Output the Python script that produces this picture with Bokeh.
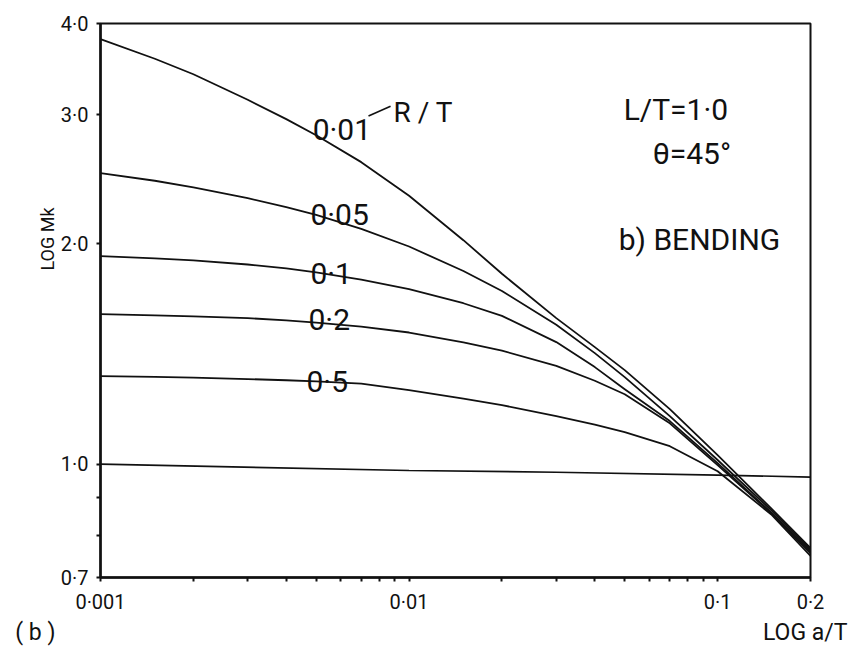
import math
from bokeh.plotting import figure
from bokeh.models import Range1d, FixedTicker, ColumnDataSource, Title
from bokeh.core.properties import value
from bokeh.embed import file_html
from bokeh.resources import INLINE

# ---------------- data ----------------
a_T = [0.001, 0.0015, 0.002, 0.003, 0.004, 0.005, 0.007, 0.01, 0.015, 0.02,
       0.03, 0.04, 0.05, 0.07, 0.1, 0.15, 0.2]
mk_r001 = [3.807, 3.58, 3.41, 3.147, 2.961, 2.815, 2.586, 2.327, 2.023, 1.82,
           1.583, 1.445, 1.344, 1.189, 1.029, 0.868, 0.768]
mk_r005 = [2.498, 2.439, 2.388, 2.309, 2.245, 2.191, 2.096, 1.983, 1.836, 1.724,
           1.550, 1.418, 1.315, 1.163, 1.013, 0.863, 0.763]
mk_r01 = [1.924, 1.910, 1.899, 1.874, 1.851, 1.828, 1.787, 1.734, 1.659, 1.594,
          1.468, 1.357, 1.266, 1.145, 1.003, 0.857, 0.759]
mk_r02 = [1.603, 1.597, 1.592, 1.583, 1.572, 1.561, 1.541, 1.513, 1.467, 1.429,
          1.362, 1.300, 1.246, 1.137, 0.997, 0.855, 0.755]
mk_r05 = [1.319, 1.316, 1.313, 1.307, 1.302, 1.297, 1.288, 1.262, 1.229, 1.204,
          1.163, 1.132, 1.106, 1.058, 0.978, 0.852, 0.749]
unity_x = [0.001, 0.01, 0.03, 0.1, 0.2]
unity_y = [1.0, 0.98, 0.975, 0.966, 0.96]

curve_labels = ["0·01", "0·05", "0·1", "0·2", "0·5"]

x_ticks = [0.001, 0.01, 0.1, 0.2]
x_tick_labels = ["0·001", "0·01", "0·1", "0·2"]
x_minor = [0.002, 0.003, 0.004, 0.005, 0.006, 0.007, 0.008, 0.009,
           0.02, 0.03, 0.04, 0.05, 0.06, 0.07, 0.08, 0.09]
y_ticks = [0.7, 1.0, 2.0, 3.0, 4.0]
y_tick_labels = ["0·7", "1·0", "2·0", "3·0", "4·0"]
y_minor = [0.8, 0.9]

# ---------------- styling ----------------
FONT = "Roboto"
INK = "#111111"

p = figure(width=862, height=647, x_axis_type="log", y_axis_type="log",
           x_range=Range1d(0.001, 0.2), y_range=Range1d(0.7, 4.0),
           output_backend="svg", toolbar_location=None,
           min_border_left=100, min_border_right=52,
           min_border_top=23, min_border_bottom=70)
p.background_fill_color = "white"
p.border_fill_color = "white"
p.grid.visible = False
p.outline_line_color = INK
p.outline_line_width = 2

for ax in (p.xaxis[0], p.yaxis[0]):
    ax.axis_line_color = INK
    ax.axis_line_width = 2.5
    ax.major_tick_line_color = INK
    ax.minor_tick_line_color = INK
    ax.major_tick_line_width = 2
    ax.minor_tick_line_width = 2
    ax.major_tick_in = 0
    ax.minor_tick_in = 0
    ax.major_tick_out = 4
    ax.minor_tick_out = 4
    ax.major_label_text_font = FONT
    ax.major_label_text_font_size = "20px"
    ax.major_label_text_color = INK
    ax.major_label_text_font_style = "normal"
    ax.major_label_standoff = 8

p.xaxis.ticker = FixedTicker(ticks=x_ticks, minor_ticks=x_minor)
p.xaxis.major_label_overrides = {t: l for t, l in zip(x_ticks, x_tick_labels)}
p.yaxis.ticker = FixedTicker(ticks=y_ticks, minor_ticks=y_minor)
p.yaxis.major_label_overrides = {t: l for t, l in zip(y_ticks, y_tick_labels)}
p.yaxis.major_label_orientation = "horizontal"

# ---------------- curves ----------------
for ys in (mk_r001, mk_r005, mk_r01, mk_r02, mk_r05):
    p.line(a_T, ys, line_color=INK, line_width=1.8, line_join="round")
p.line(unity_x, unity_y, line_color=INK, line_width=1.6)

# ---------------- in-plot labels ----------------
lab_src = ColumnDataSource(dict(
    x=[0.00487, 0.00479, 0.00479, 0.00472, 0.00465],
    y=[2.87, 2.195, 1.824, 1.578, 1.298],
    t=curve_labels))
p.text(x="x", y="y", text="t", source=lab_src, text_font=value(FONT),
       text_font_size="30px", text_color=INK, text_baseline="alphabetic",
       text_align="left")

p.text(x=[0.00891], y=[3.02], text=["R / T"], text_font=value(FONT),
       text_font_size="28px", text_color=INK, text_baseline="alphabetic")
p.line([0.00739, 0.00871], [2.99, 3.083], line_color=INK, line_width=1.6)

p.text(x=[0.0496], y=[3.055], text=["L/T=1·0"], text_font=value(FONT),
       text_font_size="30px", text_color=INK, text_baseline="alphabetic")
p.text(x=[0.0616], y=[2.66], text=["θ=45°"], text_font=value(FONT),
       text_font_size="30px", text_color=INK, text_baseline="alphabetic")
p.text(x=[0.0478], y=[2.03], text=["b) BENDING"], text_font=value(FONT),
       text_font_size="30px", text_color=INK, text_baseline="alphabetic")

# ---------------- outer labels ----------------
p.add_layout(Title(text="LOG Mk", align="left", offset=307, text_font=FONT,
                   text_font_size="18px", text_font_style="normal",
                   text_color=INK, standoff=0), "left")
bottom_text = "( b )" + "\u00a0" * 124 + "LOG a/T"
p.add_layout(Title(text=bottom_text, align="right", offset=-37, text_font=FONT,
                   text_font_size="23px", text_font_style="normal",
                   text_color=INK, standoff=0), "below")

open("out.html", "w").write(file_html(p, INLINE))
